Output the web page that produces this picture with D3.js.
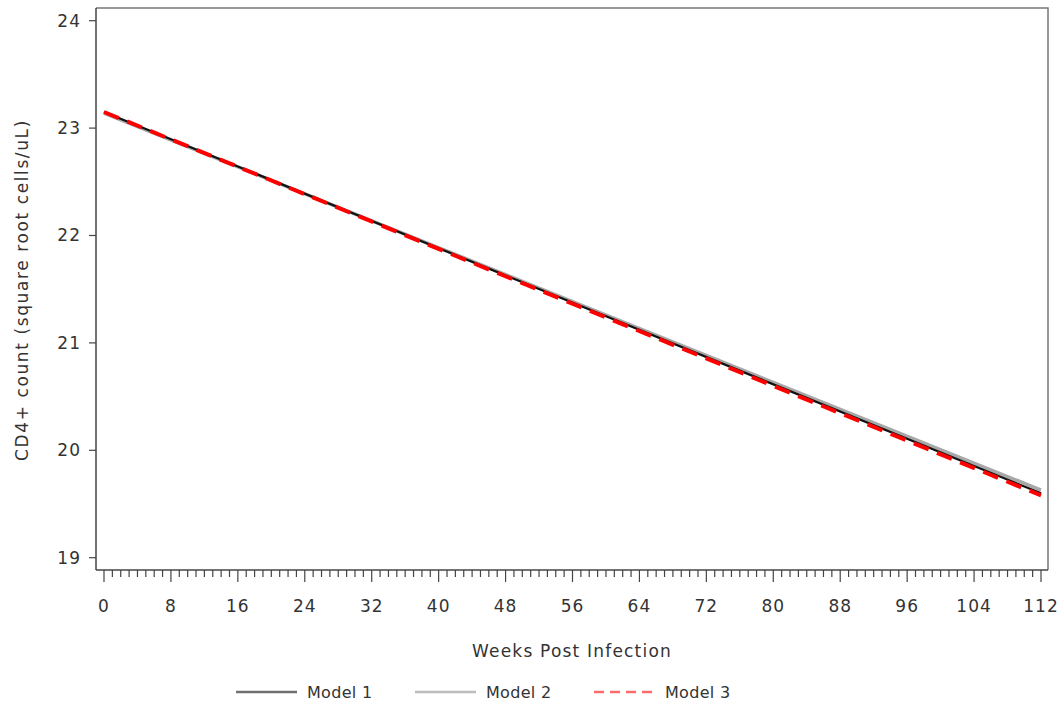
<!DOCTYPE html>
<html>
<head>
<meta charset="utf-8">
<script src="https://cdn.jsdelivr.net/npm/d3@7"></script>
<style>
  body { margin: 0; background: #fff; }
  svg text { font-family: "DejaVu Sans", sans-serif; fill: #333; }
</style>
</head>
<body>
<svg id="chart" width="1062" height="708"></svg>
<script>
// Predicted CD4+ trajectories (square-root scale) by model
const weeks = [0, 112];
const model1 = [23.15, 19.60];
const model2 = [23.14, 19.63];
const model3 = [23.15, 19.58];
const seriesNames = ["Model 1", "Model 2", "Model 3"];
const xTicks = [0, 8, 16, 24, 32, 40, 48, 56, 64, 72, 80, 88, 96, 104, 112];
const yTicks = [19, 20, 21, 22, 23, 24];

const svg = d3.select("#chart");
const frame = { left: 96, right: 1048, top: 8, bottom: 570 };

const x = d3.scaleLinear().domain([0, 112]).range([104, 1041]);
const y = d3.scaleLinear().domain([19, 24]).range([557.7, 20.7]);

// Plot frame (top and right edges)
svg.append("path")
  .attr("d", `M${frame.left},${frame.top}H${frame.right}V${frame.bottom}`)
  .attr("fill", "none").attr("stroke", "#777").attr("stroke-width", 1.5);

// Y axis
const yAxis = svg.append("g").attr("transform", `translate(${frame.left},0)`);
yAxis.append("line").attr("x1", 0).attr("x2", 0).attr("y1", frame.top).attr("y2", frame.bottom)
  .attr("stroke", "#444").attr("stroke-width", 1.5);
yAxis.selectAll("g.tick").data(yTicks).join("g").attr("class", "tick")
  .attr("transform", d => `translate(0,${y(d)})`)
  .each(function (d) {
    const g = d3.select(this);
    g.append("line").attr("x1", -7).attr("x2", 0).attr("stroke", "#444").attr("stroke-width", 1.2);
    g.append("text").attr("x", -15).attr("dy", "0.35em").attr("text-anchor", "end")
      .style("font-size", "17px").style("letter-spacing", "1px").text(d);
  });

// X axis with weekly minor ticks
const xAxis = svg.append("g").attr("transform", `translate(0,${frame.bottom})`);
xAxis.append("line").attr("x1", frame.left).attr("x2", frame.right)
  .attr("stroke", "#444").attr("stroke-width", 1.5);
xAxis.selectAll("line.minor").data(d3.range(0, 113).filter(w => w % 8 !== 0)).join("line")
  .attr("class", "minor")
  .attr("x1", d => x(d)).attr("x2", d => x(d)).attr("y1", 0).attr("y2", 7)
  .attr("stroke", "#444").attr("stroke-width", 1.2);
xAxis.selectAll("g.tick").data(xTicks).join("g").attr("class", "tick")
  .attr("transform", d => `translate(${x(d)},0)`)
  .each(function (d) {
    const g = d3.select(this);
    g.append("line").attr("y1", 0).attr("y2", 12).attr("stroke", "#444").attr("stroke-width", 1.2);
    g.append("text").attr("y", 42).attr("text-anchor", "middle")
      .style("font-size", "17px").style("letter-spacing", "1px").text(d);
  });

// Axis titles
svg.append("text").attr("x", (frame.left + frame.right) / 2).attr("y", 657)
  .attr("text-anchor", "middle").style("font-size", "17px").style("letter-spacing", "1.2px")
  .text("Weeks Post Infection");
svg.append("text").attr("transform", "translate(28,290) rotate(-90)")
  .attr("text-anchor", "middle").style("font-size", "17px").style("letter-spacing", "1.6px")
  .text("CD4+ count (square root cells/uL)");

// Series
const line = d3.line().x(d => x(d[0])).y(d => y(d[1]));
const pts = vals => weeks.map((w, i) => [w, vals[i]]);
const styles = [
  { data: model2, color: "#a8a8a8", width: 3.5, dash: null },
  { data: model1, color: "#111", width: 2.2, dash: null },
  { data: model3, color: "#ff0000", width: 4, dash: "16,9" }
];
styles.forEach(s => {
  svg.append("path").datum(pts(s.data)).attr("d", line)
    .attr("fill", "none").attr("stroke", s.color).attr("stroke-width", s.width)
    .attr("stroke-dasharray", s.dash);
});

// Legend
const legend = [
  { name: seriesNames[0], color: "#707070", dash: null, x: 236 },
  { name: seriesNames[1], color: "#bdbdbd", dash: null, x: 415 },
  { name: seriesNames[2], color: "#ff6b6b", dash: "10,6", x: 594 }
];
const lg = svg.append("g").attr("transform", "translate(0,692)");
legend.forEach(l => {
  lg.append("line").attr("x1", l.x).attr("x2", l.x + 61)
    .attr("stroke", l.color).attr("stroke-width", 2.5).attr("stroke-dasharray", l.dash);
  lg.append("text").attr("x", l.x + 71).attr("dy", "0.35em")
    .style("font-size", "16px").style("letter-spacing", "0.3px").text(l.name);
});
</script>
</body>
</html>
